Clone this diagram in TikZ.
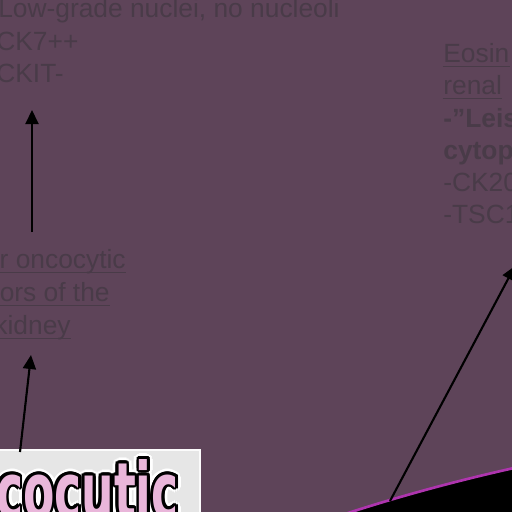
\documentclass[tikz,border=0pt]{standalone}
\usepackage{fontspec}
\setmainfont{Liberation Sans}
\newfontfamily\bubblefont{DejaVu Sans}
\usepackage{graphicx}
\definecolor{slidebg}{HTML}{5E4459}
\definecolor{slidetext}{HTML}{493B48}
\definecolor{bubblepink}{HTML}{E9B6DA}
\definecolor{boxgray}{HTML}{E6E6E6}
\definecolor{rimmagenta}{HTML}{AE34AE}
\usetikzlibrary{arrows.meta,positioning}
\newcommand{\bubbleword}{\scalebox{1}[1.7]{\bubblefont\bfseries\fontsize{26}{26}\selectfont cocutic}}

\begin{document}
\begin{tikzpicture}[x=0.02cm,y=-0.02cm,
  txt/.style={inner sep=0pt,text=slidetext,font=\fontsize{15}{18}\selectfont},
  bold/.style={txt,font=\fontsize{15}{18}\selectfont\bfseries},
  bubble/.style={anchor=base east,inner sep=0pt},
  arr/.style={-{Triangle[length=2.8mm,width=2.6mm]},line width=1.2pt,black}]
\useasboundingbox (0,0) rectangle (512,512);
\clip (0,0) rectangle (512,512);
\fill[slidebg] (0,0) rectangle (512,512);
% top left notes
\node[txt,anchor=base east] (grade) at (340,17) {Low-grade nuclei, no nucleoli};
\node[txt,anchor=base west] (ck7) at (-4,50) {CK7++};
\node[txt,anchor=base west] (ckit) at (-4,82) {CKIT-};
% middle left notes
\node[txt,anchor=base east] (onco) at (126,268) {r oncocytic};
\node[txt,anchor=base east] (tumors) at (110,301) {ors of the};
\node[txt,anchor=base east] (kidney) at (71,334) {kidney};
% right notes
\node[txt,anchor=base west] (eosin) at (443,62) {Eosin};
\node[txt,anchor=base west] (renal) at (443,94) {renal};
\node[bold,anchor=base west] (leis) at (443,127) {-”Leis};
\node[bold,anchor=base west] (cytop) at (443,159) {cytop};
\node[txt,anchor=base west] (ck20) at (443,191) {-CK20};
\node[txt,anchor=base west] (tsc) at (443,223) {-TSC1};
% underlines
\foreach \n in {onco,tumors,kidney,eosin,renal}
  \draw[slidetext,line width=0.8pt] ([yshift=-2.4pt]\n.base west) -- ([yshift=-2.4pt]\n.base east);
% title box
\node[fill=boxgray,draw=white!85!boxgray,line width=1pt,anchor=north east,
  minimum width=215,minimum height=80,inner sep=0pt] (titlebox) at (201,449) {};
\foreach \a in {0,22.5,...,337.5}
  \node[bubble,text=white,shift={(\a:5.4)}] at (179,518) {\bubbleword};
\foreach \a in {0,22.5,...,337.5}
  \node[bubble,text=black,shift={(\a:2.8)}] at (179,518) {\bubbleword};
\node[bubble,text=bubblepink] (title) at (179,518) {\bubbleword};
% black shape
\fill[black] (345,514) .. controls (400,496) and (460,480) .. (514,468) -- (514,514) -- cycle;
\draw[rimmagenta,line width=1.5pt] (345,514) .. controls (400,496) and (460,480) .. (514,468);
% connectors
\coordinate (up1tail) at (32,232);
\coordinate (up1head) at (32,110);
\coordinate (up2tail) at (20,452);
\coordinate (up2head) at (31,355);
\coordinate (up3tail) at (390,501);
\coordinate (up3head) at (515,266);
\draw[arr] (up1tail) -- (up1head);
\draw[arr] (up2tail) -- (up2head);
\draw[arr] (up3tail) -- (up3head);
\end{tikzpicture}
\end{document}
